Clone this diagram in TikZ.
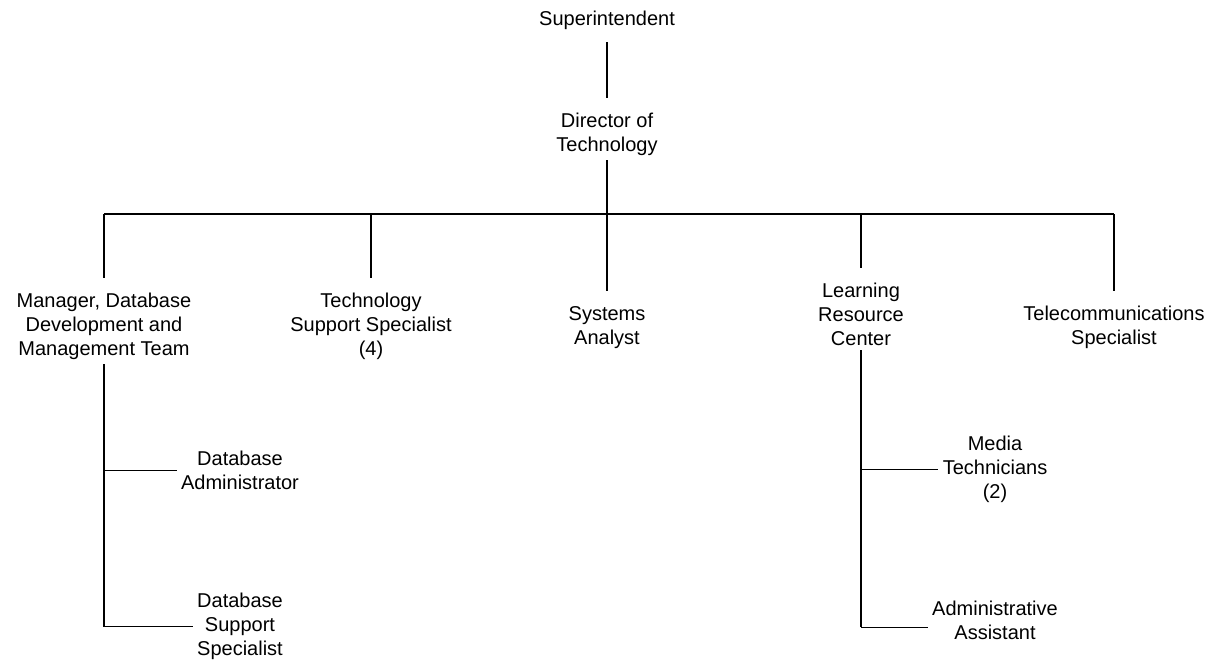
\documentclass[tikz,border=0pt]{standalone}
\usepackage{fontspec}
\setmainfont{Liberation Sans}
\usetikzlibrary{calc}

\begin{document}
\begin{tikzpicture}[x=0.75pt,y=-0.75pt,
	post/.style={align=center, font=\fontsize{15}{18}\selectfont, inner xsep=3pt, inner ysep=3pt, anchor=north},
	line/.style={line width=1.3pt},
	drop/.style={line width=1.3pt, shorten >=8pt},
	branch/.style={line width=0.8pt}]

	\useasboundingbox (0,0) rectangle (1215,661);

	\coordinate (bus) at (0,214);

	% top of the chart
	\node[post] (sup) at (607,7) {Superintendent};
	\node[post] (dir) at (607,109) {Director of\\Technology};

	% staff under the director
	\node[post] (mgr) at (104,289) {Manager, Database\\Development and\\Management Team};
	\node[post] (tss) at (371,289) {Technology\\Support Specialist\\(4)};
	\node[post] (sys) at (607,302) {Systems\\Analyst};
	\node[post] (lrc) at (861,279) {Learning\\Resource\\Center};
	\node[post] (tel) at (1114,302) {Telecommunications\\Specialist};

	% second level
	\node[post] (dba) at (240,447) {Database\\Administrator};
	\node[post] (dbs) at (240,589) {Database\\Support\\Specialist};
	\node[post] (med) at (995,432) {Media\\Technicians\\(2)};
	\node[post] (adm) at (995,597) {Administrative\\Assistant};
	\coordinate (admtap) at ([yshift=-5pt]adm.west);

	% reporting lines
	\draw[drop, shorten <=6pt] (sup) -- (dir);
	\draw[drop] (dir) -- (sys);
	\draw[line] (mgr.north |- bus) -- (tel.north |- bus);
	\foreach \n in {mgr,tss,lrc,tel}
		\draw[drop] (\n.north |- bus) -- (\n.north);

	% branches
	\draw[line] (mgr.south) -- (mgr.south |- dbs.west);
	\draw[branch] (mgr.south |- dba.west) -- (dba.west);
	\draw[branch] (mgr.south |- dbs.west) -- (dbs.west);
	\draw[line] (lrc.south) -- (lrc.south |- admtap);
	\draw[branch] (lrc.south |- med.west) -- (med.west);
	\draw[branch] (lrc.south |- admtap) -- (admtap);

\end{tikzpicture}
\end{document}
